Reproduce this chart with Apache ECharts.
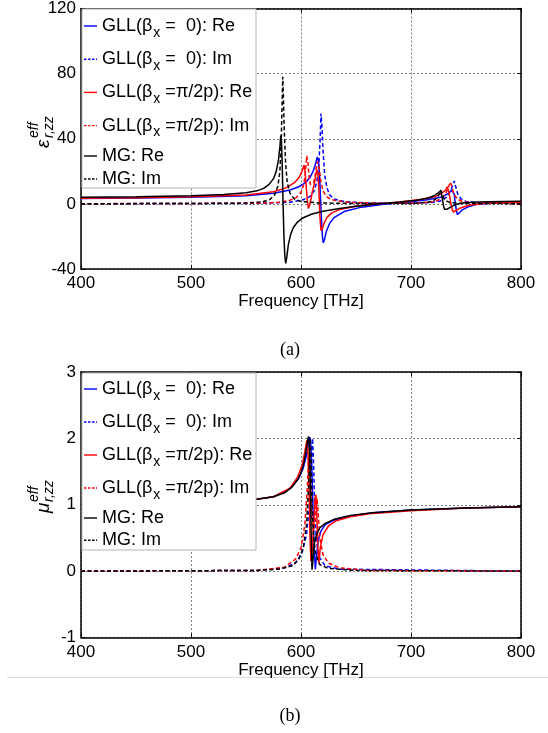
<!DOCTYPE html>
<html><head><meta charset="utf-8">
<script src="https://cdn.jsdelivr.net/npm/echarts@6/dist/echarts.min.js"></script>
<style>html,body{margin:0;padding:0;background:#fff}#c{width:548px;height:733px}</style>
</head><body><div id="c"></div>
<script>
// ---------- data ----------
const seriesNames = ['GLL(βx =  0): Re','GLL(βx =  0): Im','GLL(βx =π/2p): Re','GLL(βx =π/2p): Im','MG: Re','MG: Im'];
const seriesColors = ['#0000ff','#0000ff','#ff0000','#ff0000','#000000','#000000'];
const seriesDashed = [false,true,false,true,false,true];
const freqTicks = [400,500,600,700,800];
const epsTicks = [-40,0,40,80,120];
const muTicks = [-1,0,1,2,3];

// (a) epsilon_r,zz^eff  [frequency THz, value]
const epsGll0Re = [[400,3.3],[450,3.6],[500,4.0],[550,5.0],[575,6.5],[590,8.5],[598,10.5],[604,13],[608,16],[611,20],[613,24],[614.8,28.8],[615.8,27],[616.8,18],[617.8,3],[618.8,-12],[619.6,-21],[620.3,-23.9],[621.3,-22],[623,-17],[626,-12],[630,-8.5],[640,-4.5],[655,-2],[675,-0.3],[695,1],[715,2.5],[728,4.2],[734,6.5],[737,8.5],[738,9.5],[739.3,6],[740.5,-1],[742,-6.5],[744,-5.5],[747,-3.5],[752,-1.8],[760,-0.3],[775,0.6],[800,1.1]];
const epsGll0Im = [[400,0.1],[560,0.3],[590,1],[602,2.5],[608,4.5],[612,8],[614.5,14],[616.3,25],[617.4,40],[618.2,55.5],[619,48],[620,33],[621.5,18],[623.5,10],[626,5.5],[630,3],[640,1.3],[660,0.5],[700,0.4],[720,0.9],[728,2],[733,4.5],[736,8],[738.3,12],[739.4,14.1],[740.5,11],[742.5,6],[745.5,3],[750,1.5],[760,0.6],[800,0.2]];
const epsGllPiRe = [[400,3.5],[450,3.8],[500,4.3],[550,5.5],[575,7.5],[587,10],[594,13],[598,16],[601,20],[602.7,23.8],[603.7,20],[604.8,10],[605.8,2],[606.7,-2.8],[607.8,-1],[609,3],[610.5,8],[612,12],[613.3,17],[614.5,21],[615.4,19],[616.3,8],[617.2,-8],[618.2,-16.5],[619.5,-15],[621.5,-11],[624,-8],[628,-5.5],[635,-3.5],[650,-1.5],[670,0],[690,1.2],[710,2.8],[722,4.5],[728,6.5],[731.5,8.5],[733,10.5],[734.5,7],[736,1],[737.5,-3.5],[738.5,-5],[741,-4],[745,-2.5],[752,-1],[765,0.3],[800,1]];
const epsGllPiIm = [[400,0.1],[560,0.4],[580,1],[590,2.2],[596,4],[600,7],[602.5,12],[604,19],[605.2,29.5],[606.2,26],[607.3,17],[608.5,12],[610,11],[611.5,13],[613,18],[614.2,24],[615.3,26],[616.5,22],[618,14],[620,8],[623,4.5],[628,2.5],[640,1],[670,0.4],[710,0.6],[722,1.5],[728,3.5],[732,7],[734.5,11],[735.7,13.5],[737,11],[739,6],[742,3],[747,1.3],[760,0.5],[800,0.2]];
const epsMgRe = [[400,4.1],[450,4.4],[500,5.0],[530,5.8],[550,6.9],[560,8.0],[566,9.5],[571,12],[575,15.5],[577.5,20],[579.5,27],[580.8,35],[581.6,42],[582.3,38],[583.0,22],[583.7,0],[584.5,-20],[585.3,-32],[586.1,-36.5],[587,-33],[588.5,-25],[590.5,-19],[593,-14.5],[597,-11],[602,-8.5],[610,-6.2],[620,-4.5],[635,-2.8],[650,-1.5],[670,0],[690,1.2],[705,2.3],[715,3.5],[721,5],[725,7],[727,8],[728.3,4],[729.5,-1],[730.5,-3.4],[733,-3.2],[736,-2],[740,-0.6],[745,0.4],[755,1.0],[770,1.3],[800,1.6]];
const epsMgIm = [[400,0.1],[500,0.2],[550,0.5],[565,1.2],[572,2.8],[576,5.5],[579,11],[580.8,20],[582,38],[582.8,60],[583.4,78],[584,66],[584.8,45],[586,25],[587.5,13],[590,6.5],[594,3],[600,1.5],[615,0.6],[650,0.2],[700,0.3],[715,0.9],[720,1.8],[723.5,3.5],[725.5,6],[727,8.5],[728.2,7],[729.5,4],[731.5,2],[735,0.9],[745,0.3],[800,0.1]];

// (b) mu_r,zz^eff
const muGll0Re = [[400,1.0],[500,1.03],[555,1.07],[575,1.12],[590,1.24],[598,1.4],[602,1.55],[605,1.75],[607,1.93],[608,2.02],[608.8,1.95],[609.8,1.6],[610.8,1.0],[612,0.35],[613,0.03],[614,0.2],[615.5,0.45],[618,0.6],[622,0.7],[630,0.77],[645,0.83],[665,0.88],[700,0.92],[750,0.95],[800,0.97]];
const muGll0Im = [[400,0],[560,0.01],[585,0.05],[595,0.12],[601,0.28],[605,0.55],[607.5,0.95],[609,1.5],[610.5,2.0],[611.5,1.6],[612.5,0.9],[614,0.45],[617,0.2],[622,0.08],[635,0.03],[800,0]];
const muGllPiRe = [[400,1.0],[500,1.03],[555,1.07],[575,1.12],[590,1.25],[597,1.42],[601,1.6],[603.5,1.8],[605.3,1.97],[606.2,1.85],[607.2,1.3],[608.2,0.5],[609,0.15],[610.2,0.3],[611.5,0.7],[612.8,1.1],[613.5,1.15],[614.3,0.9],[615.2,0.4],[616.2,0.12],[617.5,0.35],[620,0.55],[625,0.68],[632,0.76],[645,0.82],[665,0.87],[700,0.91],[750,0.95],[800,0.97]];
const muGllPiIm = [[400,0],[560,0.01],[585,0.06],[595,0.18],[600,0.35],[603.5,0.7],[605.5,1.2],[607,1.7],[607.8,1.75],[608.8,1.2],[610,0.7],[611.5,0.6],[613,0.8],[614.5,1.1],[615.5,0.9],[617,0.5],[620,0.25],[625,0.12],[635,0.05],[660,0.01],[800,0]];
const muMgRe = [[400,1.0],[450,1.01],[500,1.03],[530,1.05],[555,1.07],[575,1.12],[585,1.18],[592,1.27],[597,1.38],[600,1.48],[602.5,1.62],[604.5,1.8],[606,1.97],[606.8,2.03],[607.6,1.9],[608.4,1.4],[609.2,0.6],[610,0.02],[610.8,0.15],[612,0.4],[614,0.55],[617,0.65],[622,0.72],[630,0.78],[645,0.84],[665,0.88],[700,0.92],[750,0.95],[800,0.97]];
const muMgIm = [[400,0],[560,0.01],[580,0.03],[592,0.08],[598,0.18],[602,0.35],[605,0.7],[607,1.3],[608.4,2.0],[609.2,1.7],[610,1.0],[611.5,0.5],[613.5,0.25],[617,0.1],[625,0.04],[650,0.01],[800,0]];

const epsData = [epsGll0Re, epsGll0Im, epsGllPiRe, epsGllPiIm, epsMgRe, epsMgIm];
const muData = [muGll0Re, muGll0Im, muGllPiRe, muGllPiIm, muMgRe, muMgIm];

// ---------- chart ----------
const FONT = '"Liberation Sans", Arial, sans-serif';
const chart = echarts.init(document.getElementById('c'), null, {renderer:'canvas'});

function xAxes(grid, gap) {
  return [
    {gridIndex:grid, type:'value', position:'bottom', min:freqTicks[0], max:freqTicks[freqTicks.length-1], interval:100,
     axisLine:{show:true, onZero:false, lineStyle:{color:'#000', width:1.5}},
     axisTick:{show:true, inside:true, length:4, lineStyle:{color:'#000'}},
     axisLabel:{fontSize:17, color:'#000', margin:6, fontFamily:FONT},
     splitLine:{show:true, lineStyle:{color:'#808080', width:1, type:[2,2]}},
     name:'Frequency [THz]', nameLocation:'middle', nameGap:gap, nameTextStyle:{fontSize:17, color:'#000', fontFamily:FONT}},
    {gridIndex:grid, type:'value', position:'top', min:freqTicks[0], max:freqTicks[freqTicks.length-1], interval:100,
     axisLine:{show:true, onZero:false, lineStyle:{color:'#000', width:1.5}},
     axisTick:{show:true, inside:true, length:4, lineStyle:{color:'#000'}},
     axisLabel:{show:false}, splitLine:{show:false}}
  ];
}
function yAxes(grid, ticks) {
  const mn = ticks[0], mx = ticks[ticks.length-1], iv = ticks[1]-ticks[0];
  return [
    {gridIndex:grid, type:'value', position:'left', min:mn, max:mx, interval:iv,
     axisLine:{show:true, onZero:false, lineStyle:{color:'#000', width:1.5}},
     axisTick:{show:true, inside:true, length:4, lineStyle:{color:'#000'}},
     axisLabel:{fontSize:17, color:'#000', margin:5, fontFamily:FONT},
     splitLine:{show:true, lineStyle:{color:'#808080', width:1, type:[2,2]}}},
    {gridIndex:grid, type:'value', position:'right', min:mn, max:mx, interval:iv,
     axisLine:{show:true, onZero:false, lineStyle:{color:'#000', width:1.5}},
     axisTick:{show:true, inside:true, length:4, lineStyle:{color:'#000'}},
     axisLabel:{show:false}, splitLine:{show:false}}
  ];
}

const series = [];
[epsData, muData].forEach((set, p) => {
  set.forEach((d, i) => {
    series.push({
      type:'line', name:seriesNames[i], data:d, xAxisIndex:p*2, yAxisIndex:p*2,
      symbol:'none', showSymbol:false, smooth:false, clip:true, animation:false, z:2+(i>=4?1:0),
      lineStyle:{color:seriesColors[i], width:1.5, type:seriesDashed[i] ? [4,2.5] : 'solid'},
      itemStyle:{color:seriesColors[i]}
    });
  });
});

const SOLID_ICON = 'path://M0,0h13v1h-13z';
const DASH_ICON = 'path://M0,0h2.5v1h-2.5zM4,0h2.5v1h-2.5zM8,0h2.5v1h-2.5zM12,0h1v1h-1z';
const richLegend = {
  t:{fontSize:18, lineHeight:20, color:'#000', fontFamily:FONT},
  s:{fontSize:14, lineHeight:12, padding:[14,0,0,1], color:'#000', fontFamily:FONT}
};
function legendFmt(name) {
  if (name.indexOf('GLL(βx') === 0) {
    return '{t|GLL(β}{s|x}{t|' + name.slice(6) + '}';
  }
  return '{t|' + name + '}';
}
function legend(items, top, gap) {
  return {
    data:items.map(n => {
      const k = seriesNames.indexOf(n);
      return {name:n, icon: seriesDashed[k] ? DASH_ICON : SOLID_ICON,
              itemStyle:{color:seriesColors[k], borderWidth:0}};
    }),
    orient:'vertical', left:84, top:top, itemGap:gap, padding:0,
    itemWidth:13, itemHeight:1.4, symbolKeepAspect:false, selectedMode:false, z:6,
    itemStyle:{borderWidth:0}, lineStyle:{width:0},
    formatter:legendFmt, textStyle:{rich:richLegend, fontSize:18, color:'#000', fontFamily:FONT}
  };
}

const option = {
  animation:false,
  backgroundColor:'#ffffff',
  textStyle:{fontFamily:FONT},
  grid:[
    {left:81, top:8, width:440, height:261},
    {left:81, top:372, width:440, height:265.5}
  ],
  xAxis:[...xAxes(0, 19), ...xAxes(1, 22)],
  yAxis:[...yAxes(0, epsTicks), ...yAxes(1, muTicks)],
  legend:[
    legend(seriesNames.slice(0,4), 12, 5.2),
    legend(seriesNames.slice(4), 147, 5),
    legend(seriesNames.slice(0,4), 375, 5.0),
    legend(seriesNames.slice(4), 509, 4.3)
  ],
  graphic:[
    {type:'rect', shape:{x:82, y:9, width:174, height:179}, style:{fill:'#fff', stroke:'#b4b4b4', lineWidth:1}, z:5},
    {type:'rect', shape:{x:82, y:373, width:174, height:177}, style:{fill:'#fff', stroke:'#b4b4b4', lineWidth:1}, z:5},
    {type:'group', x:44, y:148, rotation:Math.PI/2, z:6, children:[
      {type:'text', x:0, y:0, style:{text:'ε', font:'italic 19px ' + FONT, fill:'#000', textVerticalAlign:'middle'}},
      {type:'text', x:10, y:-10, style:{text:'eff', font:'italic 14px ' + FONT, fill:'#000', textVerticalAlign:'middle'}},
      {type:'text', x:10, y:5, style:{text:'r,zz', font:'italic 14px ' + FONT, fill:'#000', textVerticalAlign:'middle'}}
    ]},
    {type:'group', x:44, y:513, rotation:Math.PI/2, z:6, children:[
      {type:'text', x:0, y:0, style:{text:'μ', font:'italic 19px ' + FONT, fill:'#000', textVerticalAlign:'middle'}},
      {type:'text', x:11, y:-10, style:{text:'eff', font:'italic 14px ' + FONT, fill:'#000', textVerticalAlign:'middle'}},
      {type:'text', x:11, y:5, style:{text:'r,zz', font:'italic 14px ' + FONT, fill:'#000', textVerticalAlign:'middle'}}
    ]},
    {type:'text', x:290, y:350, style:{text:'(a)', font:'18px "Liberation Serif", "Times New Roman", serif', fill:'#000', textAlign:'center', textVerticalAlign:'middle'}},
    {type:'text', x:290, y:716, style:{text:'(b)', font:'18px "Liberation Serif", "Times New Roman", serif', fill:'#000', textAlign:'center', textVerticalAlign:'middle'}},
    {type:'line', shape:{x1:7, y1:677.5, x2:548, y2:677.5}, style:{stroke:'#dcdcdc', lineWidth:1}}
  ],
  series:series
};
chart.setOption(option);
</script>
</body></html>
